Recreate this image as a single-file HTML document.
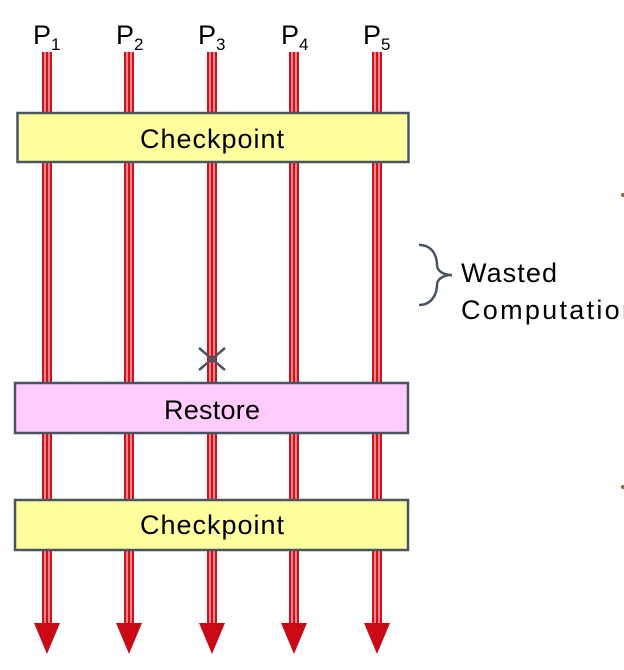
<!DOCTYPE html>
<html><head><style>body{margin:0;background:#fff}svg{display:block}</style></head><body>
<svg width="624" height="670" xmlns="http://www.w3.org/2000/svg">
<defs>
<g id="ln">
<rect x="-5" y="52" width="10" height="574" fill="#d0101c"/>
<rect x="-2.5" y="52" width="1" height="574" fill="#fff"/>
<rect x="1.5" y="52" width="1" height="574" fill="#fff"/>
<polygon points="-13,623 13,623 0,654" fill="#c90a16"/>
</g>
</defs>
<use href="#ln" x="47"/><use href="#ln" x="129"/><use href="#ln" x="212"/><use href="#ln" x="294"/><use href="#ln" x="377"/>
<g font-family="Liberation Sans, sans-serif" font-size="27" fill="#000">
<text x="33" y="44">P<tspan font-size="17" dy="6">1</tspan></text>
<text x="116" y="44">P<tspan font-size="17" dy="6">2</tspan></text>
<text x="198" y="44">P<tspan font-size="17" dy="6">3</tspan></text>
<text x="281" y="44">P<tspan font-size="17" dy="6">4</tspan></text>
<text x="363" y="44">P<tspan font-size="17" dy="6">5</tspan></text>
</g>
<g stroke="#4a5563" stroke-width="2.5">
<rect x="17.5" y="113" width="391" height="49" fill="#ffff9e"/>
<rect x="15" y="383" width="393" height="50" fill="#ffccfc"/>
<rect x="15" y="500" width="393" height="50" fill="#ffff9e"/>
</g>
<g font-family="Liberation Sans, sans-serif" font-size="27" fill="#000" text-anchor="middle">
<text x="212" y="148" textLength="144">Checkpoint</text>
<text x="212" y="419" textLength="96">Restore</text>
<text x="212" y="534" textLength="144">Checkpoint</text>
</g>
<path d="M199,348 L225,370 M225,348 L199,370" stroke="#4a5563" stroke-width="2.5"/>
<path d="M419,245 C435,245 437,260 437,265 C437,272 445,275 452,275 C445,275 437,278 437,285 C437,292 433,305 419,305" fill="none" stroke="#4a5563" stroke-width="2.5"/>
<g font-family="Liberation Sans, sans-serif" font-size="27" fill="#000">
<text x="461" y="282" textLength="96">Wasted</text>
<text x="461" y="319" textLength="176">Computation</text>
</g>
<circle cx="623" cy="195" r="2" fill="#8a6a3a"/>
<circle cx="623" cy="487" r="2" fill="#8a6a3a"/>
</svg>
</body></html>
